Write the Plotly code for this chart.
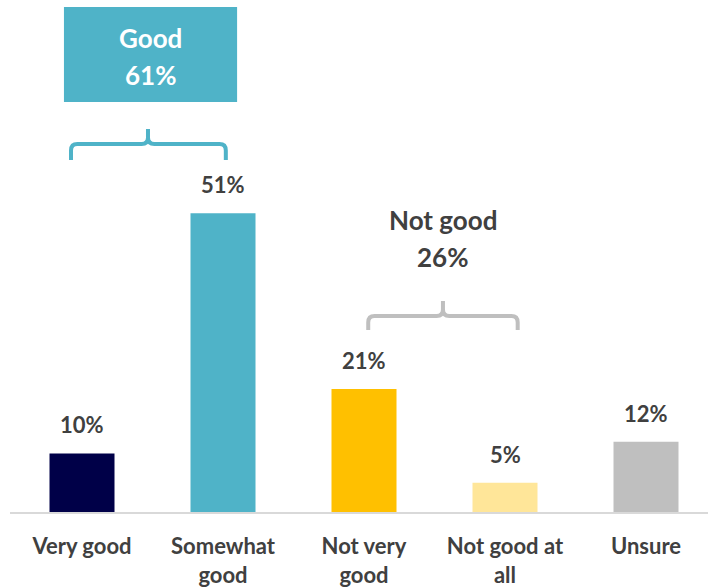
import plotly.graph_objects as go

categories = ["Very good", "Somewhat<br>good", "Not very<br>good", "Not good at<br>all", "Unsure"]
values = [10, 51, 21, 5, 12]
value_labels = ["10%", "51%", "21%", "5%", "12%"]
colors = ["#000048", "#4FB3C8", "#FFC000", "#FFE699", "#BFBFBF"]

good_lines = ["Good", "61%"]
notgood_lines = ["Not good", "26%"]

W, H = 708, 587
base_px = 512
ppu = 5.86
FONT = "Lato"
TXT = "#404040"
TEAL = "#4FB3C8"
GRAY = "#BFBFBF"

x = list(range(len(categories)))
fig = go.Figure()
fig.add_trace(go.Bar(x=x, y=values, marker_color=colors, width=0.461,
                     marker_line_width=0, hoverinfo="skip"))

for i, (v, t) in enumerate(zip(values, value_labels)):
    fig.add_annotation(x=i, y=v, text=f"<b>{t}</b>", showarrow=False,
                       yanchor="bottom", yshift=13,
                       font=dict(family=FONT, size=22, color=TXT))

def bracket(x0, x1, xc, yb, yh, yt, color):
    rx, ry = 0.045, 1.1
    p = (f"M {x0},{yb} L {x0},{yh-ry} Q {x0},{yh} {x0+rx},{yh} "
         f"L {xc-rx},{yh} Q {xc},{yh} {xc},{yh+ry} L {xc},{yt} "
         f"M {xc},{yh+ry} Q {xc},{yh} {xc+rx},{yh} "
         f"L {x1-rx},{yh} Q {x1},{yh} {x1},{yh-ry} L {x1},{yb}")
    fig.add_shape(type="path", path=p, xref="x", yref="y",
                  line=dict(color=color, width=4))

def ypx(px):
    return (base_px - px) / ppu

# Good bracket and box
bracket(-0.078, 1.02, 0.468, ypx(160), ypx(144), ypx(129), TEAL)
fig.add_shape(type="rect", xref="x", yref="y", x0=-0.128, x1=1.10,
              y0=ypx(102), y1=ypx(7), fillcolor=TEAL, line_width=0)
for txt, py in zip(good_lines, [38, 75]):
    fig.add_annotation(x=0.486, y=ypx(py), text=f"<b>{txt}</b>", showarrow=False,
                       font=dict(family=FONT, size=26, color="white"))

# Not good bracket and label
bracket(2.03, 3.09, 2.56, ypx(330), ypx(316), ypx(301), GRAY)
for txt, py in zip(notgood_lines, [220, 257]):
    fig.add_annotation(x=2.56, y=ypx(py), text=f"<b>{txt}</b>", showarrow=False,
                       font=dict(family=FONT, size=26, color=TXT))

x_lo = (10 - 82) / 141
x_hi = (708 - 82) / 141
fig.update_layout(
    width=W, height=H, margin=dict(l=0, r=0, t=0, b=H - base_px),
    paper_bgcolor="white", plot_bgcolor="white", showlegend=False,
    xaxis=dict(domain=[10 / W, 1], range=[x_lo, x_hi], tickvals=x,
               ticktext=[f"<b>{c}</b>" for c in categories],
               tickfont=dict(family=FONT, size=22, color=TXT),
               showgrid=False, zeroline=False, showline=True,
               linecolor="#D9D9D9", linewidth=2, ticks="",
               ticklabelstandoff=14, fixedrange=True),
    yaxis=dict(range=[0, base_px / ppu], visible=False, fixedrange=True),
)
fig.write_html("out.html")
